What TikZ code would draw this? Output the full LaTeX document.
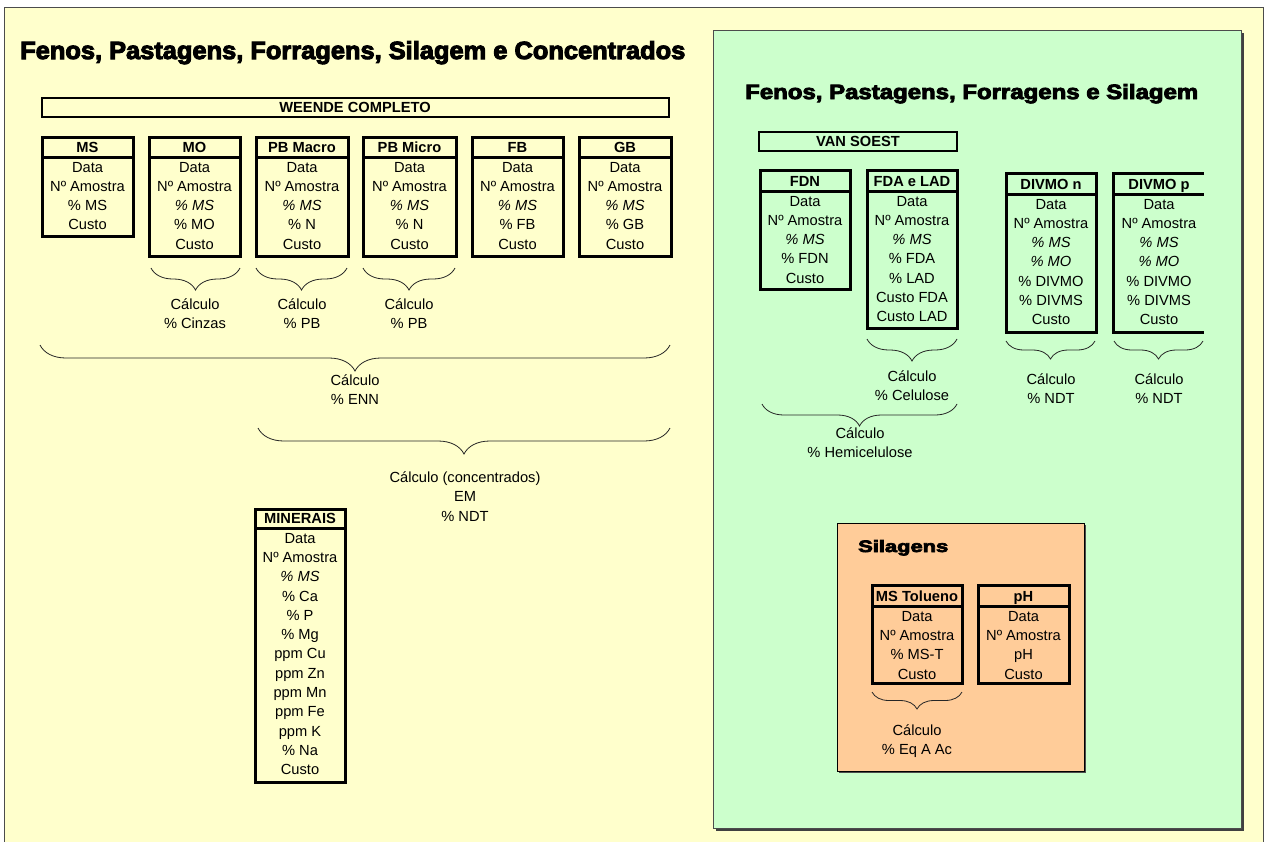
\documentclass[tikz,border=0pt]{standalone}
\usepackage{fontspec}
\usepackage{graphicx}
\setmainfont{Liberation Sans}
\newfontfamily\wordart{Liberation Sans}[BoldFeatures={FakeBold=4}]
\usetikzlibrary{decorations.pathreplacing}
\definecolor{bgY}{HTML}{FFFFCC}
\definecolor{bgG}{HTML}{CCFFCC}
\definecolor{bgO}{HTML}{FFCC99}
\tikzset{
  boxline/.style={line width=3pt, draw=black},
  hdr/.style={font=\bfseries\fontsize{14.67}{17}\selectfont, anchor=base, inner sep=0pt},
  rows/.style={font=\fontsize{14.67}{19.3}\selectfont, align=center, anchor=north, inner sep=0pt},
  calcl/.style={font=\fontsize{14.67}{19.3}\selectfont, align=center, anchor=north, inner sep=0pt},
  brc/.style={decorate, decoration={brace, mirror, amplitude=#1}, line width=0.8pt, draw=black!85},
  brc/.default=22,
  ttl/.style={anchor=base west, inner sep=0pt, font=\wordart\bfseries},
}
% name, xl, xr, ytop, yline, ybottom, header, rows
\newcommand\dbox[8]{%
  \draw[boxline] (#2,#4) rectangle (#3,#6);
  \draw[boxline] (#2,#5) -- (#3,#5);
  \node[hdr] (#1h) at ({(#2+#3)/2},{#5-5}) {#7};
  \node[rows] (#1) at ({(#2+#3)/2},{#5+4.8}) {#8};
}
\begin{document}
\begin{tikzpicture}[x=1pt,y=-1pt]
\useasboundingbox (0,0) rectangle (1268,841);
\fill[white] (0,0) rectangle (1268,841);
% outer yellow panel
\draw[fill=bgY, draw=black!70, line width=1pt] (4,7) rectangle (1263,870);
\node[ttl] (t1) at (20,59) {\resizebox{665pt}{18pt}{Fenos, Pastagens, Forragens, Silagem e Concentrados}};

% WEENDE
\draw[line width=2.5pt] (42,98) rectangle (669,117);
\node[hdr] (weende) at (355,112) {WEENDE COMPLETO};

\dbox{ms}{42}{133}{137}{157}{236}{MS}{Data\\Nº Amostra\\\% MS\\Custo}
\dbox{mo}{149}{240}{137}{157}{256}{MO}{Data\\Nº Amostra\\\textit{\% MS}\\\% MO\\Custo}
\dbox{pbma}{256}{348}{137}{157}{256}{PB Macro}{Data\\Nº Amostra\\\textit{\% MS}\\\% N\\Custo}
\dbox{pbmi}{363}{456}{137}{157}{256}{PB Micro}{Data\\Nº Amostra\\\textit{\% MS}\\\% N\\Custo}
\dbox{fb}{472}{563}{137}{157}{256}{FB}{Data\\Nº Amostra\\\textit{\% MS}\\\% FB\\Custo}
\dbox{gb}{579}{671}{137}{157}{256}{GB}{Data\\Nº Amostra\\\textit{\% MS}\\\% GB\\Custo}

\coordinate (b1a) at (151,268); \coordinate (b1b) at (240,268);
\coordinate (b2a) at (256,268); \coordinate (b2b) at (347,268);
\coordinate (b3a) at (363,268); \coordinate (b3b) at (455,268);
\draw[brc] (b1a) -- (b1b);
\draw[brc] (b2a) -- (b2b);
\draw[brc] (b3a) -- (b3b);
\node[calcl] (c1) at (195,298.5) {Cálculo\\\% Cinzas};
\node[calcl] (c2) at (302,298.5) {Cálculo\\\% PB};
\node[calcl] (c3) at (409,298.5) {Cálculo\\\% PB};

\coordinate (b4a) at (40,345); \coordinate (b4b) at (670,345);
\draw[brc=26] (b4a) -- (b4b);
\node[calcl] (c4) at (355,374.5) {Cálculo\\\% ENN};
\coordinate (b5a) at (258,428); \coordinate (b5b) at (670,428);
\draw[brc=26] (b5a) -- (b5b);
\node[calcl] (c5) at (465,471.5) {Cálculo (concentrados)\\EM\\\% NDT};

\dbox{min}{255}{345}{509}{528}{782}{MINERAIS}{Data\\Nº Amostra\\\textit{\% MS}\\\% Ca\\\% P\\\% Mg\\ppm Cu\\ppm Zn\\ppm Mn\\ppm Fe\\ppm K\\\% Na\\Custo}

% green panel
\fill[black!75] (716,33) rectangle (1244,831);
\draw[fill=bgG, draw=black!70, line width=1pt] (713,30) rectangle (1241,828);
\node[ttl] (t2) at (745,99) {\resizebox{453pt}{15pt}{Fenos, Pastagens, Forragens e Silagem}};
\draw[line width=2.5pt] (759,132) rectangle (957,151);
\node[hdr] (vansoest) at (858,146) {VAN SOEST};

\dbox{fdn}{760}{850}{170}{191}{289}{FDN}{Data\\Nº Amostra\\\textit{\% MS}\\\% FDN\\Custo}
\dbox{fda}{867}{957}{170}{191}{328}{FDA e LAD}{Data\\Nº Amostra\\\textit{\% MS}\\\% FDA\\\% LAD\\Custo FDA\\Custo LAD}
\dbox{dvn}{1006}{1096}{173}{194}{332}{DIVMO n}{Data\\Nº Amostra\\\textit{\% MS}\\\textit{\% MO}\\\% DIVMO\\\% DIVMS\\Custo}
% DIVMO p (open on the right)
\draw[boxline] (1204,173) -- (1113,173) -- (1113,332) -- (1204,332);
\draw[boxline] (1113,194) -- (1204,194);
\node[hdr] (dvph) at (1159,189) {DIVMO p};
\node[rows] (dvp) at (1159,198.8) {Data\\Nº Amostra\\\textit{\% MS}\\\textit{\% MO}\\\% DIVMO\\\% DIVMS\\Custo};

\coordinate (b6a) at (867,339); \coordinate (b6b) at (957,339);
\draw[brc] (b6a) -- (b6b);
\node[calcl] (c6) at (912,370.5) {Cálculo\\\% Celulose};
\coordinate (b7a) at (1006,341); \coordinate (b7b) at (1095,341);
\draw[brc=18] (b7a) -- (b7b);
\node[calcl] (c7) at (1051,373.5) {Cálculo\\\% NDT};
\coordinate (b8a) at (1114,341); \coordinate (b8b) at (1203,341);
\draw[brc=18] (b8a) -- (b8b);
\node[calcl] (c8) at (1159,373.5) {Cálculo\\\% NDT};
\coordinate (b9a) at (762,404); \coordinate (b9b) at (957,404);
\draw[brc] (b9a) -- (b9b);
\node[calcl] (c9) at (860,427.5) {Cálculo\\\% Hemicelulose};

% orange panel
\fill[black!70] (839,525) rectangle (1086,773);
\draw[fill=bgO, draw=black, line width=1pt] (837,523) rectangle (1084,771);
\node[ttl] (t3) at (858,552) {\resizebox{90pt}{12pt}{Silagens}};
\dbox{mst}{872}{962}{585}{606}{683}{MS Tolueno}{Data\\Nº Amostra\\\% MS-T\\Custo}
\dbox{ph}{978}{1069}{585}{606}{683}{pH}{Data\\Nº Amostra\\pH\\Custo}
\coordinate (b10a) at (872,692); \coordinate (b10b) at (962,692);
\draw[brc=17] (b10a) -- (b10b);
\node[calcl] (c10) at (917,724.5) {Cálculo\\\% Eq A Ac};
\end{tikzpicture}
\end{document}
